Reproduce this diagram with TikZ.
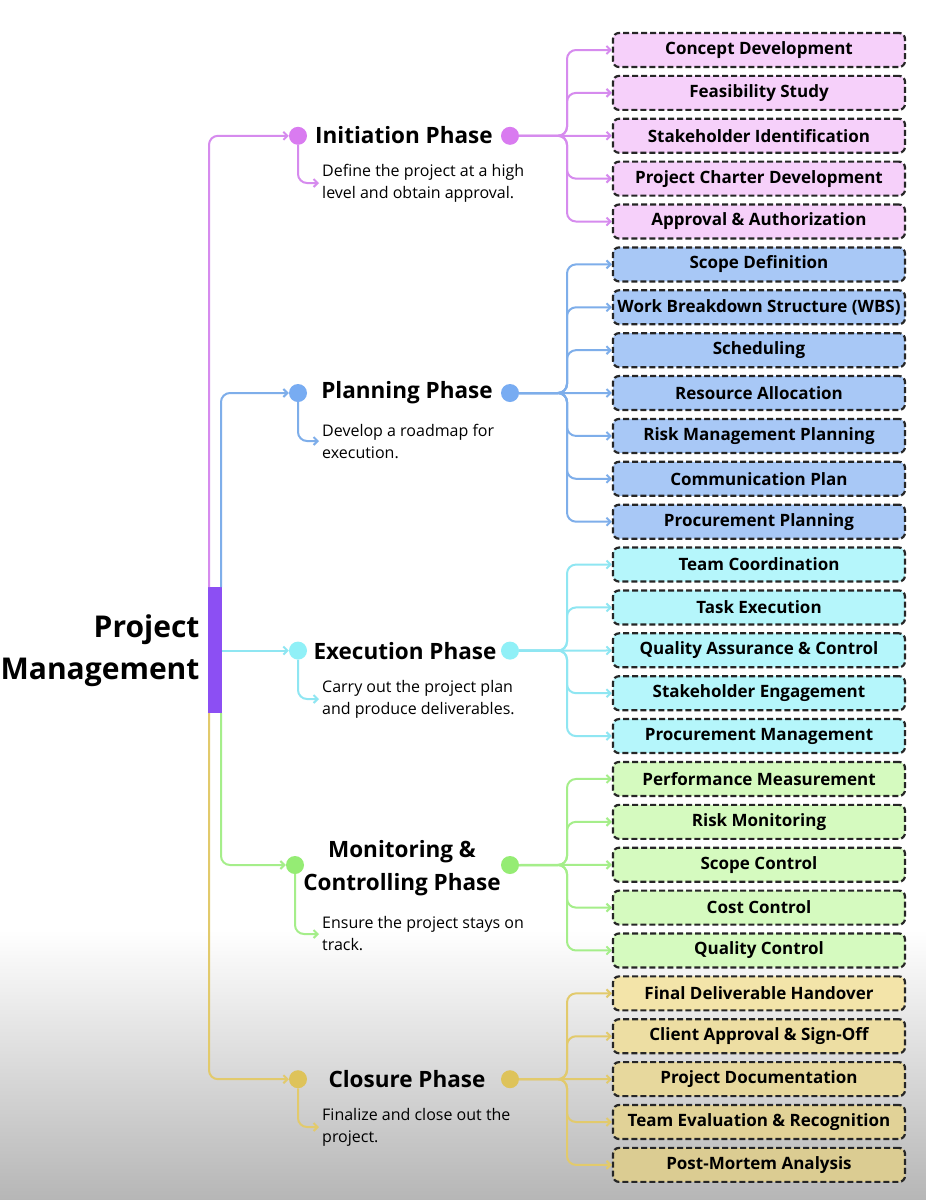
\documentclass[tikz,border=0pt]{standalone}
\usepackage{fontspec}
\setmainfont{Open Sans}
\usetikzlibrary{arrows.meta}
\definecolor{pinkline}{HTML}{D68BEE}
\definecolor{pinkdot}{HTML}{D97BF0}
\definecolor{pinkbox}{HTML}{F6D0FA}
\definecolor{blueline}{HTML}{7EAEEA}
\definecolor{bluedot}{HTML}{78ACF2}
\definecolor{bluebox}{HTML}{A8C8F6}
\definecolor{cyanline}{HTML}{8FE6F2}
\definecolor{cyandot}{HTML}{90F0F7}
\definecolor{cyanbox}{HTML}{B5F6FB}
\definecolor{greenline}{HTML}{A5EE8A}
\definecolor{greendot}{HTML}{95EC74}
\definecolor{greenbox}{HTML}{D5FABF}
\definecolor{yellowline}{HTML}{E2CA6C}
\definecolor{yellowdot}{HTML}{DEC35A}
\definecolor{yellowboxA}{HTML}{F3E4A9}
\definecolor{yellowboxB}{HTML}{EDDEA3}
\definecolor{yellowboxC}{HTML}{E7D89D}
\definecolor{yellowboxD}{HTML}{E1D297}
\definecolor{yellowboxE}{HTML}{DBCC92}
\definecolor{barpurple}{HTML}{8C4FF3}
\definecolor{bggray}{HTML}{B6B6B6}
\tikzset{
  >={Straight Barb[length=4pt, width=8pt]},
  box/.style={draw=black!85, dash pattern=on 6pt off 3pt, line width=2.2pt, rounded corners=6pt,
    minimum width=292pt, minimum height=34pt, inner sep=0pt,
    font=\fontsize{17}{18}\selectfont\bfseries},
  dot/.style={circle, fill=#1, inner sep=0pt, minimum size=18pt},
  phase/.style={font=\fontsize{22.5}{33}\selectfont\bfseries, align=center},
  note/.style={anchor=west, align=left, inner xsep=3pt, inner ysep=0pt,
    font=\fontsize{16}{22}\selectfont},
  link/.style={->, line width=2pt, rounded corners=9pt},
}
\begin{document}
\begin{tikzpicture}[x=1pt, y=-1pt]
\useasboundingbox (0,0) rectangle (926,1200);
\fill[white] (0,0) rectangle (926,930);
\shade[top color=white, bottom color=bggray] (0,930) rectangle (926,1200);

\fill[barpurple] (208,587) rectangle (222,713);
\coordinate (barNW) at (209,587);
\coordinate (barNE) at (221,587);
\coordinate (barE) at (222,650.6);
\coordinate (barSW) at (209,713);
\coordinate (barSE) at (221,713);
\node[anchor=east, align=right, font=\fontsize{30}{42}\selectfont\bfseries] (pm) at (203,651) {Project\\Management};

\node[dot=pinkdot] (initL) at (298,135.8) {};
\node[dot=pinkdot] (initR) at (510,135.8) {};
\node[phase] (init) at (404,135) {Initiation Phase};
\node[note] (initD) at (319,183) {Define the project at a high\\level and obtain approval.};

\node[dot=bluedot] (planL) at (298,393) {};
\node[dot=bluedot] (planR) at (510,393) {};
\node[phase] (plan) at (407,393) {Planning Phase};
\node[note] (planD) at (319,441) {Develop a roadmap for\\execution.};

\node[dot=cyandot] (execL) at (298,650.6) {};
\node[dot=cyandot] (execR) at (510,650.6) {};
\node[phase] (exec) at (405,651) {Execution Phase};
\node[note] (execD) at (319,699) {Carry out the project plan\\and produce deliverables.};

\node[dot=greendot] (monL) at (295,865) {};
\node[dot=greendot] (monR) at (510,865) {};
\node[phase] (mon) at (402,868) {Monitoring \&\\Controlling Phase};
\node[note] (monD) at (319,934) {Ensure the project stays on\\track.};

\node[dot=yellowdot] (closL) at (298,1079.2) {};
\node[dot=yellowdot] (closR) at (510,1079.2) {};
\node[phase] (clos) at (407,1079) {Closure Phase};
\node[note] (closD) at (319,1127) {Finalize and close out the\\project.};

\foreach \i/\t/\c in {1/Concept Development/pinkbox, 2/Feasibility Study/pinkbox,
    3/Stakeholder Identification/pinkbox, 4/Project Charter Development/pinkbox,
    5/Approval \& Authorization/pinkbox,
    6/Scope Definition/bluebox, 7/Work Breakdown Structure (WBS)/bluebox,
    8/Scheduling/bluebox, 9/Resource Allocation/bluebox,
    10/Risk Management Planning/bluebox, 11/Communication Plan/bluebox,
    12/Procurement Planning/bluebox,
    13/Team Coordination/cyanbox, 14/Task Execution/cyanbox,
    15/Quality Assurance \& Control/cyanbox, 16/Stakeholder Engagement/cyanbox,
    17/Procurement Management/cyanbox,
    18/Performance Measurement/greenbox, 19/Risk Monitoring/greenbox,
    20/Scope Control/greenbox, 21/Cost Control/greenbox, 22/Quality Control/greenbox,
    23/Final Deliverable Handover/yellowboxA, 24/Client Approval \& Sign-Off/yellowboxB,
    25/Project Documentation/yellowboxC, 26/Team Evaluation \& Recognition/yellowboxD,
    27/Post-Mortem Analysis/yellowboxE}
  \node[box, fill=\c] (b\i) at (759,{50+42.88*(\i-1)}) {\t};

\draw[link, pinkline] (barNW) |- (initL);
\draw[link, blueline] (barNE) |- (planL);
\draw[link, cyanline] (barE) -- (execL);
\draw[link, greenline] (barSE) |- (monL);
\draw[link, yellowline] (barSW) |- (closL);

\draw[link, pinkline] (initL) |- (initD.west);
\draw[link, blueline] (planL) |- (planD.west);
\draw[link, cyanline] (execL) |- (execD.west);
\draw[link, greenline] (monL) |- (monD.west);
\draw[link, yellowline] (closL) |- (closD.west);

\draw[link, pinkline] (initR) -- (b3);
\foreach \i in {1,2,4,5} \draw[link, pinkline] (initR) -- (567,135.8) |- (b\i.west);
\draw[link, blueline] (planR) -- (b9);
\foreach \i in {6,7,8,10,11,12} \draw[link, blueline] (planR) -- (567,393) |- (b\i.west);
\draw[link, cyanline] (execR) -- (b15);
\foreach \i in {13,14,16,17} \draw[link, cyanline] (execR) -- (567,650.6) |- (b\i.west);
\draw[link, greenline] (monR) -- (b20);
\foreach \i in {18,19,21,22} \draw[link, greenline] (monR) -- (567,865) |- (b\i.west);
\draw[link, yellowline] (closR) -- (b25);
\foreach \i in {23,24,26,27} \draw[link, yellowline] (closR) -- (567,1079.2) |- (b\i.west);
\end{tikzpicture}
\end{document}
